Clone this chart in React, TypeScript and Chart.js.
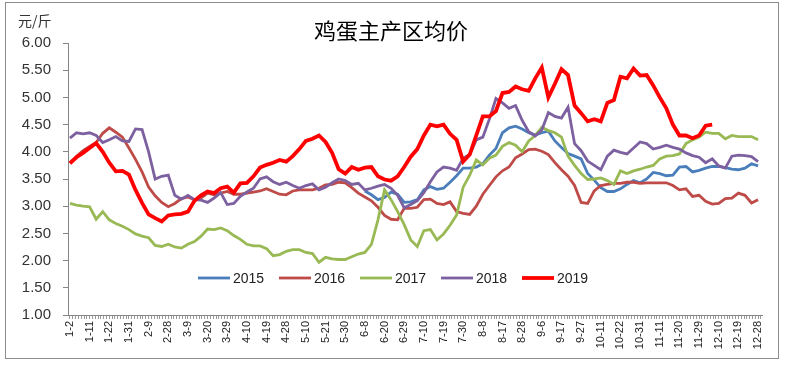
import React, { useEffect, useRef } from 'react';
import { Chart, registerables } from 'chart.js';

Chart.register(...registerables);

// Tick labels shown on the category axis (one every 7 trading days)
const tickLabels = [
  '1-2', '1-11', '1-22', '1-31', '2-9', '2-28', '3-9', '3-20', '3-29', '4-10', '4-19', '4-28',
  '5-10', '5-21', '5-30', '6-8', '6-20', '6-29', '7-10', '7-19', '7-30', '8-8', '8-17', '8-28',
  '9-6', '9-17', '9-27', '10-11', '10-22', '10-31', '11-11', '11-20', '11-29', '12-10', '12-19', '12-28',
];
const labelEvery = 7; // categories between two shown labels
const sampleStep = 7 / 3; // categories between two sampled values

const seriesNames = ['2015', '2016', '2017', '2018', '2019'];
const seriesColors = ['#4A7EBB', '#BE4B48', '#98B954', '#7D60A0', '#FF0000'];

// 2015 starts later in the year (sample index 45)
const start2015 = 45;
const values2015 = [
  3.28, 3.21, 3.12, 3.16, 3.26, 3.22, 3.07, 3.08, 3.12, 3.3,
  3.36, 3.31, 3.33, 3.44, 3.56, 3.7, 3.7, 3.72, 3.78, 3.94,
  4.06, 4.35, 4.44, 4.47, 4.42, 4.35, 4.31, 4.35, 4.38, 4.2,
  4.08, 3.97, 3.92, 3.87, 3.6, 3.48, 3.34, 3.27, 3.27, 3.32,
  3.4, 3.47, 3.43, 3.5, 3.62, 3.6, 3.56, 3.57, 3.72, 3.73,
  3.63, 3.66, 3.7, 3.73, 3.73, 3.71, 3.68, 3.67, 3.7, 3.78,
  3.74,
];
const values2016 = [
  3.79, 3.92, 4.02, 4.1, 4.17, 4.34, 4.44, 4.36, 4.27, 4.07,
  3.86, 3.63, 3.35, 3.19, 3.07, 2.99, 3.05, 3.14, 3.17, 3.12,
  3.15, 3.24, 3.21, 3.24, 3.27, 3.22, 3.22, 3.24, 3.26, 3.28,
  3.32, 3.27, 3.22, 3.21, 3.28, 3.3, 3.3, 3.3, 3.33, 3.39,
  3.4, 3.44, 3.43, 3.34, 3.24, 3.17, 3.1, 2.98, 2.83, 2.76,
  2.75, 2.96, 2.96, 2.98, 3.12, 3.13, 3.05, 3.03, 3.08, 2.9,
  2.87, 2.85, 3.0, 3.22, 3.38, 3.54, 3.65, 3.72, 3.89, 3.96,
  4.04, 4.05, 4.01, 3.95, 3.8, 3.67, 3.55, 3.38, 3.07, 3.05,
  3.28, 3.38, 3.4, 3.42, 3.42, 3.44, 3.44, 3.42, 3.43, 3.43,
  3.43, 3.43, 3.38, 3.3, 3.32, 3.18, 3.2, 3.09, 3.04, 3.05,
  3.14, 3.15, 3.24, 3.2, 3.06, 3.12,
];
const values2017 = [
  3.05, 3.02, 3.0, 2.99, 2.76, 2.9, 2.75, 2.68, 2.63, 2.57,
  2.49, 2.45, 2.42, 2.28, 2.26, 2.3, 2.25, 2.23, 2.3, 2.35,
  2.45, 2.58, 2.57, 2.6, 2.55, 2.46, 2.39, 2.3, 2.27, 2.27,
  2.22, 2.09, 2.11, 2.17, 2.2, 2.2, 2.15, 2.13, 1.97, 2.06,
  2.03, 2.02, 2.02, 2.07, 2.12, 2.15, 2.3, 2.75, 3.3, 3.12,
  2.9, 2.66, 2.38, 2.26, 2.55, 2.57, 2.38, 2.49, 2.65, 2.84,
  3.35, 3.57, 3.85, 3.76, 3.88, 3.94, 4.1, 4.17, 4.12, 4.0,
  4.2, 4.3, 4.45, 4.39, 4.35, 4.27, 3.92, 3.75, 3.6, 3.49,
  3.5, 3.52, 3.47, 3.4, 3.65, 3.6, 3.65, 3.68, 3.72, 3.75,
  3.87, 3.92, 3.93, 3.96, 4.15, 4.22, 4.27, 4.36, 4.34, 4.34,
  4.24, 4.3, 4.28, 4.28, 4.28, 4.22,
];
const values2018 = [
  4.25, 4.35, 4.33, 4.35, 4.3, 4.17, 4.22, 4.28, 4.2, 4.19,
  4.42, 4.41, 4.0, 3.5, 3.55, 3.57, 3.2, 3.13, 3.2, 3.12,
  3.11, 3.07, 3.15, 3.25, 3.03, 3.05, 3.18, 3.26, 3.33, 3.5,
  3.54, 3.45, 3.4, 3.44, 3.38, 3.33, 3.38, 3.41, 3.3, 3.35,
  3.43, 3.5, 3.47, 3.4, 3.42, 3.3, 3.33, 3.37, 3.4, 3.33,
  3.2, 2.97, 3.03, 3.1, 3.25, 3.45, 3.63, 3.72, 3.7, 3.66,
  3.88, 3.95, 4.22, 4.27, 4.6, 4.98, 4.9, 4.8, 4.85, 4.58,
  4.37, 4.29, 4.4, 4.72, 4.65, 4.62, 4.82, 4.15, 4.02, 3.83,
  3.75, 3.67, 3.92, 4.03, 3.99, 3.96, 4.07, 4.18, 4.15, 4.05,
  4.08, 4.12, 4.08, 4.05, 3.98, 3.93, 3.9, 3.8, 3.87, 3.74,
  3.7, 3.92, 3.94, 3.93, 3.91, 3.82,
];
const values2019 = [
  3.79, 3.9, 3.98, 4.07, 4.16, 4.0, 3.8, 3.64, 3.65, 3.58,
  3.3, 3.06, 2.85, 2.78, 2.72, 2.83, 2.85, 2.86, 2.9, 3.1,
  3.2, 3.27, 3.24, 3.33, 3.36, 3.25, 3.42, 3.43, 3.55, 3.71,
  3.76, 3.8, 3.85, 3.82, 3.92, 4.05, 4.2, 4.24, 4.3, 4.18,
  3.98, 3.68, 3.6, 3.72, 3.67, 3.71, 3.72, 3.55, 3.49, 3.47,
  3.55, 3.72, 3.91, 4.05, 4.3, 4.5, 4.47, 4.5, 4.33, 4.22,
  3.82, 3.95, 4.3, 4.65, 4.65, 4.75, 5.08, 5.1, 5.2, 5.15,
  5.12, 5.35, 5.55, 5.0, 5.25, 5.52, 5.41, 4.85, 4.71, 4.56,
  4.6, 4.56, 4.9, 4.95, 5.38, 5.35, 5.53, 5.4, 5.41, 5.22,
  5.0, 4.8, 4.5, 4.3, 4.3, 4.25, 4.3, 4.48, 4.5,
];

const seriesValues = [values2015, values2016, values2017, values2018, values2019];
const seriesStarts = [start2015, 0, 0, 0, 0];
const seriesWidths = [2.8, 2.8, 2.8, 2.8, 3.8];

const titleText = '鸡蛋主产区均价';
const unitText = '元/斤';

const decorPlugin = {
  id: 'decor',
  afterDraw(chart: any) {
    const ctx = chart.ctx as CanvasRenderingContext2D;
    ctx.save();
    // outer frame
    ctx.strokeStyle = '#8C8C8C';
    ctx.lineWidth = 1;
    ctx.strokeRect(5.5, 2.5, 773, 356);
    // title
    ctx.fillStyle = '#000';
    ctx.font = '22px "Noto Sans CJK SC"';
    ctx.textAlign = 'center';
    ctx.textBaseline = 'middle';
    ctx.fillText(titleText, 391, 31);
    // unit
    ctx.font = '14px "Noto Sans CJK SC"';
    ctx.textAlign = 'left';
    ctx.fillStyle = '#333';
    ctx.fillText(unitText, 18, 21);
    // legend
    const legendY = 278;
    ctx.font = '14px "Liberation Sans"';
    ctx.textBaseline = 'middle';
    seriesNames.forEach((name, i) => {
      const x0 = 198 + i * 81;
      ctx.strokeStyle = seriesColors[i];
      ctx.lineWidth = seriesWidths[i];
      ctx.beginPath();
      ctx.moveTo(x0, legendY);
      ctx.lineTo(x0 + 32, legendY);
      ctx.stroke();
      ctx.fillStyle = '#222';
      ctx.fillText(name, x0 + 35, legendY + 1);
    });
    ctx.restore();
  },
};

export default function App() {
  const canvasRef = useRef<HTMLCanvasElement | null>(null);

  useEffect(() => {
    const canvas = canvasRef.current;
    if (!canvas) return;
    const datasets = seriesNames.map((name, i) => ({
      label: name,
      data: seriesValues[i].map((v, j) => ({ x: (seriesStarts[i] + j) * sampleStep, y: v })),
      borderColor: seriesColors[i],
      backgroundColor: seriesColors[i],
      borderWidth: seriesWidths[i],
      pointRadius: 0,
      tension: 0,
      fill: false,
      order: seriesNames.length - 1 - i,
    }));
    const chart = new Chart(canvas, {
      type: 'line',
      data: { datasets },
      options: {
        animation: false,
        responsive: false,
        devicePixelRatio: 1,
        layout: { padding: { left: 0, right: 27, top: 43, bottom: 0 } },
        plugins: {
          legend: { display: false },
          title: { display: false },
          tooltip: { enabled: false },
        },
        scales: {
          x: {
            type: 'linear',
            min: -0.7,
            max: 246.4,
            afterFit: (scale: any) => {
              scale.height = 54;
            },
            grid: {
              drawOnChartArea: false,
              drawTicks: true,
              tickLength: 4,
              color: '#9A9A9A',
            },
            border: { color: '#868686', width: 1 },
            ticks: {
              stepSize: 1,
              includeBounds: false,
              autoSkip: false,
              minRotation: 90,
              maxRotation: 90,
              padding: 2,
              color: '#222',
              font: { family: '"Liberation Sans"', size: 11 },
              callback: (value: any) => {
                const v = Number(value);
                if (Number.isInteger(v) && v >= 0 && v % labelEvery === 0) {
                  return tickLabels[v / labelEvery] ?? '';
                }
                return '';
              },
            },
          },
          y: {
            min: 1,
            max: 6,
            afterFit: (scale: any) => {
              scale.width = 68;
            },
            grid: {
              drawOnChartArea: false,
              drawTicks: true,
              tickLength: 5,
              color: '#868686',
            },
            border: { color: '#868686', width: 1 },
            ticks: {
              stepSize: 0.5,
              padding: 12,
              color: '#333',
              font: { family: '"Liberation Sans"', size: 15 },
              callback: (value: any) => Number(value).toFixed(2),
            },
          },
        },
      },
      plugins: [decorPlugin],
    });
    return () => chart.destroy();
  }, []);

  return (
    <div style={{ position: 'absolute', left: 0, top: 0, width: 789, height: 369, background: '#fff' }}>
      <canvas ref={canvasRef} width={789} height={369} style={{ display: 'block', width: 789, height: 369 }} />
    </div>
  );
}
